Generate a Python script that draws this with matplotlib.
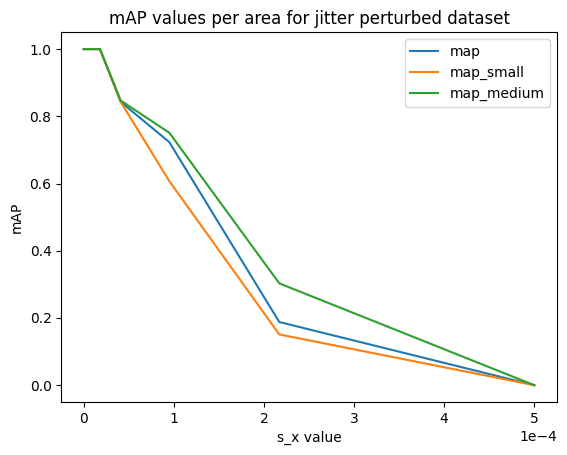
import matplotlib.pyplot as plt
import numpy as np

# s_x values (perturbation std) and mAP per area
s_x = [0.0, 0.18e-4, 0.41e-4, 0.95e-4, 2.17e-4, 5.0e-4]
map_all = [1.0, 1.0, 0.843, 0.723, 0.188, 0.0]
map_small = [1.0, 1.0, 0.843, 0.607, 0.151, 0.0]
map_medium = [1.0, 1.0, 0.847, 0.751, 0.303, 0.0]

fig = plt.figure(figsize=(5.67, 4.55), dpi=100)
ax = fig.add_axes([0.108, 0.1165, 0.874, 0.8125])

ax.plot(s_x, map_all, label="map")
ax.plot(s_x, map_small, label="map_small")
ax.plot(s_x, map_medium, label="map_medium")

ax.ticklabel_format(axis="x", style="sci", scilimits=(0, 0))
ax.set_xlabel("s_x value")
ax.set_ylabel("mAP")
ax.set_title("mAP values per area for jitter perturbed dataset")
ax.legend(loc="upper right")

fig.savefig("out.png", dpi=100)
plt.close(fig)
